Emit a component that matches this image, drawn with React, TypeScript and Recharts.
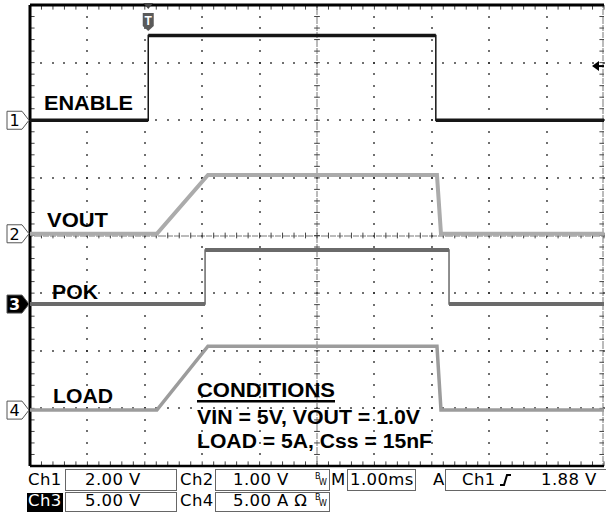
import {
  ComposedChart,
  Line,
  ReferenceDot,
  ReferenceLine,
  XAxis,
  YAxis,
} from 'recharts'

// time in divisions (1 ms/div), level in divisions from the bottom of the screen
const ENABLE_T = [0, 2.06, 2.06, 7.07, 7.07, 10]
const ENABLE_V = [6.0, 6.0, 7.47, 7.47, 6.0, 6.0]
const VOUT_T = [0, 2.21, 3.1, 7.09, 7.16, 10]
const VOUT_V = [4.03, 4.03, 5.05, 5.05, 4.03, 4.03]
const POK_T = [0, 3.05, 3.05, 7.3, 7.3, 10]
const POK_V = [2.81, 2.81, 3.75, 3.75, 2.81, 2.81]
const LOAD_T = [0, 2.21, 3.1, 7.09, 7.16, 10]
const LOAD_V = [0.97, 0.97, 2.08, 2.08, 0.97, 0.97]

const CH_LEVELS = [6.0, 4.03, 2.81, 0.97]
const TRIG_T = 2.06
const TRIG_LEVEL = 6.94

const X_TICKS = [1, 2, 3, 4, 6, 7, 8, 9]
const Y_TICKS = [1, 2, 3, 5, 6, 7]
const MINOR_X = Array.from({ length: 51 }, (_, i) => +(i * 0.2).toFixed(1))
const MINOR_Y = Array.from({ length: 41 }, (_, i) => +(i * 0.2).toFixed(1))

const W = 606
const H = 516
const MARGIN = { top: 5, right: 2, bottom: 50, left: 30 }
const PW = W - MARGIN.left - MARGIN.right
const PH = H - MARGIN.top - MARGIN.bottom
const px = (t: number) => MARGIN.left + (t / 10) * PW
const py = (v: number) => MARGIN.top + PH - (v / 8) * PH

const zip = (t: number[], v: number[]) => t.map((x, i) => ({ t: x, v: v[i] }))

// same points, broken at the vertical edges so only the flat/ramp parts get the thick "noise" stroke
const flats = (t: number[], v: number[]) => {
  const out: { t: number; v: number | null }[] = []
  t.forEach((x, i) => {
    if (i > 0 && t[i - 1] === x) out.push({ t: x, v: null })
    out.push({ t: x, v: v[i] })
  })
  return out
}

const labelFont = '"Liberation Sans", Arial, sans-serif'
const scopeFont = '"DejaVu Sans", sans-serif'

function ChannelMarker(props: any, n: number) {
  const { cx, cy } = props
  const filled = n === 3
  return (
    <g>
      <polygon
        points={`${cx - 23},${cy - 9} ${cx - 8},${cy - 9} ${cx - 1},${cy} ${cx - 8},${cy + 9} ${cx - 23},${cy + 9}`}
        fill={filled ? '#000' : '#fff'}
        stroke="#555"
        strokeWidth={1}
      />
      <text
        x={cx - 15.5}
        y={cy + 6}
        textAnchor="middle"
        fontFamily={scopeFont}
        fontSize={16}
        fontWeight={filled ? 'bold' : 'normal'}
        fill={filled ? '#fff' : '#000'}
      >
        {n}
      </text>
    </g>
  )
}

function TriggerMarker(props: any) {
  const { cx, cy } = props
  return (
    <g>
      <polygon points={`${cx - 5},${cy - 2} ${cx + 5},${cy - 2} ${cx},${cy + 4}`} fill="#444" />
      <path
        d={`M${cx - 5.5},${cy + 8} H${cx + 5.5} V${cy + 21} L${cx},${cy + 26} L${cx - 5.5},${cy + 21} Z`}
        fill="#5a5a5a"
      />
      <text
        x={cx}
        y={cy + 20}
        textAnchor="middle"
        fontFamily={labelFont}
        fontWeight="bold"
        fontSize={12}
        fill="#fff"
      >
        T
      </text>
    </g>
  )
}

function LevelArrow(props: any) {
  const { cx, cy } = props
  return (
    <g>
      <polygon points={`${cx - 12},${cy} ${cx - 5},${cy - 5} ${cx - 5},${cy + 5}`} fill="#000" />
      <line x1={cx - 6} y1={cy} x2={cx} y2={cy} stroke="#000" strokeWidth={2} />
    </g>
  )
}

// graticule dots, drawn under the chart
function Graticule() {
  const dots: JSX.Element[] = []
  const dot = (key: string, x: number, y: number, s: number, fill: string) =>
    dots.push(<rect key={key} x={Math.round(x) - s / 2} y={Math.round(y) - s / 2} width={s} height={s} fill={fill} />)
  X_TICKS.forEach((t) => MINOR_Y.forEach((v) => dot(`a${t}-${v}`, px(t), py(v), 1.6, '#222')))
  Y_TICKS.forEach((v) => MINOR_X.forEach((t) => dot(`b${t}-${v}`, px(t), py(v), 1.6, '#222')))
  // centre cross and right edge: fine dots every ~2.3 px
  const fineX = Array.from({ length: 251 }, (_, i) => i * 0.04)
  const fineY = Array.from({ length: 201 }, (_, i) => i * 0.04)
  fineY.forEach((v) => {
    dot(`c${v}`, px(5), py(v), 1.2, '#444')
    dot(`r${v}`, px(10) - 1, py(v), 1.2, '#444')
  })
  fineX.forEach((t) => dot(`d${t}`, px(t), py(4), 1.2, '#444'))
  return (
    <svg width={W} height={H} style={{ position: 'absolute', left: 0, top: 0 }}>
      {dots}
    </svg>
  )
}

function Overlay() {
  const box = { fill: 'none', stroke: '#666', strokeWidth: 1 }
  const txt = { fontFamily: scopeFont, fontSize: 16.5, fill: '#000', letterSpacing: 0.4 }
  const big = { fontFamily: labelFont, fontWeight: 'bold' as const, fontSize: 19.5, fill: '#000' }
  return (
    <svg
      width={W}
      height={H}
      style={{ position: 'absolute', left: 0, top: 0, pointerEvents: 'none' }}
    >
      <text {...big} x={44} y={110} textLength={89} lengthAdjust="spacingAndGlyphs">ENABLE</text>
      <text {...big} x={47} y={227} textLength={61} lengthAdjust="spacingAndGlyphs">VOUT</text>
      <text {...big} x={52} y={299} textLength={46} lengthAdjust="spacingAndGlyphs">POK</text>
      <text {...big} x={53} y={403} textLength={60} lengthAdjust="spacingAndGlyphs">LOAD</text>
      <text {...big} x={197} y={397} textLength={138} lengthAdjust="spacingAndGlyphs">CONDITIONS</text>
      <rect x={197} y={400} width={138} height={2.5} fill="#000" />
      <text {...big} x={197} y={424} textLength={223} lengthAdjust="spacingAndGlyphs">VIN = 5V, VOUT = 1.0V</text>
      <text {...big} x={197} y={448} textLength={235} lengthAdjust="spacingAndGlyphs">LOAD = 5A, Css = 15nF</text>

      {/* status bar, row 1 */}
      <text {...txt} x={28} y={485}>Ch1</text>
      <rect {...box} x={65.5} y={469.5} width={111} height={21} />
      <text {...txt} x={85} y={485}>2.00 V</text>
      <text {...txt} x={180} y={485}>Ch2</text>
      <rect {...box} x={215.5} y={469.5} width={114} height={21} />
      <text {...txt} x={233} y={485}>1.00 V</text>
      <text fontFamily={scopeFont} fontSize={8} x={315} y={479}>B</text>
      <text fontFamily={scopeFont} fontSize={8} x={319} y={485}>W</text>
      <text {...txt} x={331} y={485}>M</text>
      <rect {...box} x={347.5} y={469.5} width={68} height={21} />
      <text {...txt} x={350} y={485}>1.00ms</text>
      <text {...txt} x={433} y={485}>A</text>
      <rect {...box} x={445.5} y={469.5} width={165} height={21} />
      <text {...txt} x={462} y={485}>Ch1</text>
      <path d="M500,485 H504 L507,475 H511" fill="none" stroke="#000" strokeWidth={2} />
      <text {...txt} x={541} y={485}>1.88 V</text>

      {/* status bar, row 2 */}
      <rect x={27} y={493} width={36} height={19} fill="#000" />
      <text {...txt} x={28} y={506} fill="#fff">Ch3</text>
      <rect {...box} x={65.5} y={492.5} width={111} height={19} />
      <text {...txt} x={85} y={506}>5.00 V</text>
      <text {...txt} x={180} y={506}>Ch4</text>
      <rect {...box} x={215.5} y={492.5} width={114} height={19} />
      <text {...txt} x={233} y={506}>5.00 A Ω</text>
      <text fontFamily={scopeFont} fontSize={8} x={315} y={500}>B</text>
      <text fontFamily={scopeFont} fontSize={8} x={319} y={506}>W</text>
    </svg>
  )
}

const trace = (t: number[], v: number[], color: string, thick: number) => [
  <Line
    key={`${color}-thin`}
    data={zip(t, v)}
    dataKey="v"
    stroke={color}
    strokeWidth={1.5}
    dot={false}
    isAnimationActive={false}
  />,
  <Line
    key={`${color}-thick`}
    data={flats(t, v)}
    dataKey="v"
    stroke={color}
    strokeWidth={thick}
    dot={false}
    connectNulls={false}
    isAnimationActive={false}
  />,
]

export default function App() {
  return (
    <div style={{ position: 'absolute', left: 0, top: 0, width: W, height: H, background: '#fff' }}>
      <Graticule />
      <div style={{ position: 'absolute', left: 0, top: 0 }}>
        <ComposedChart width={W} height={H} margin={MARGIN}>
          <XAxis type="number" dataKey="t" domain={[0, 10]} hide allowDataOverflow />
          <YAxis type="number" dataKey="v" domain={[0, 8]} hide allowDataOverflow />

          {/* tick marks on the centre cross and on the frame */}
          {MINOR_X.map((t) => (
            <ReferenceLine key={`cx${t}`} segment={[{ x: t, y: 3.95 }, { x: t, y: 4.05 }]} stroke="#444" />
          ))}
          {MINOR_Y.map((v) => (
            <ReferenceLine key={`cy${v}`} segment={[{ x: 4.95, y: v }, { x: 5.05, y: v }]} stroke="#444" />
          ))}
          {MINOR_X.map((t) => (
            <ReferenceLine key={`bx${t}`} segment={[{ x: t, y: 0 }, { x: t, y: 0.08 }]} stroke="#444" />
          ))}
          {MINOR_X.map((t) => (
            <ReferenceLine key={`tx${t}`} segment={[{ x: t, y: 8 }, { x: t, y: 7.92 }]} stroke="#444" />
          ))}
          {MINOR_Y.map((v) => (
            <ReferenceLine key={`ly${v}`} segment={[{ x: 0, y: v }, { x: 0.08, y: v }]} stroke="#444" />
          ))}
          {MINOR_Y.map((v) => (
            <ReferenceLine key={`ry${v}`} segment={[{ x: 10, y: v }, { x: 9.92, y: v }]} stroke="#444" />
          ))}

          {/* frame */}
          <ReferenceLine x={0} stroke="#000" strokeWidth={3} />
          <ReferenceLine y={8} stroke="#000" strokeWidth={3} />
          <ReferenceLine y={0} stroke="#000" strokeWidth={2.5} />

          {trace(LOAD_T, LOAD_V, '#9c9c9c', 3.5)}
          {trace(POK_T, POK_V, '#6a6a6a', 4)}
          {trace(VOUT_T, VOUT_V, '#ababab', 4)}
          {trace(ENABLE_T, ENABLE_V, '#161616', 3.5)}

          {CH_LEVELS.map((lv, i) => (
            <ReferenceDot key={`m${i}`} x={0} y={lv} r={0} ifOverflow="visible" shape={(p: any) => ChannelMarker(p, i + 1)} />
          ))}
          <ReferenceDot x={TRIG_T} y={8} r={0} ifOverflow="visible" shape={TriggerMarker} />
          <ReferenceDot x={10} y={TRIG_LEVEL} r={0} ifOverflow="visible" shape={LevelArrow} />
        </ComposedChart>
      </div>
      <Overlay />
    </div>
  )
}
